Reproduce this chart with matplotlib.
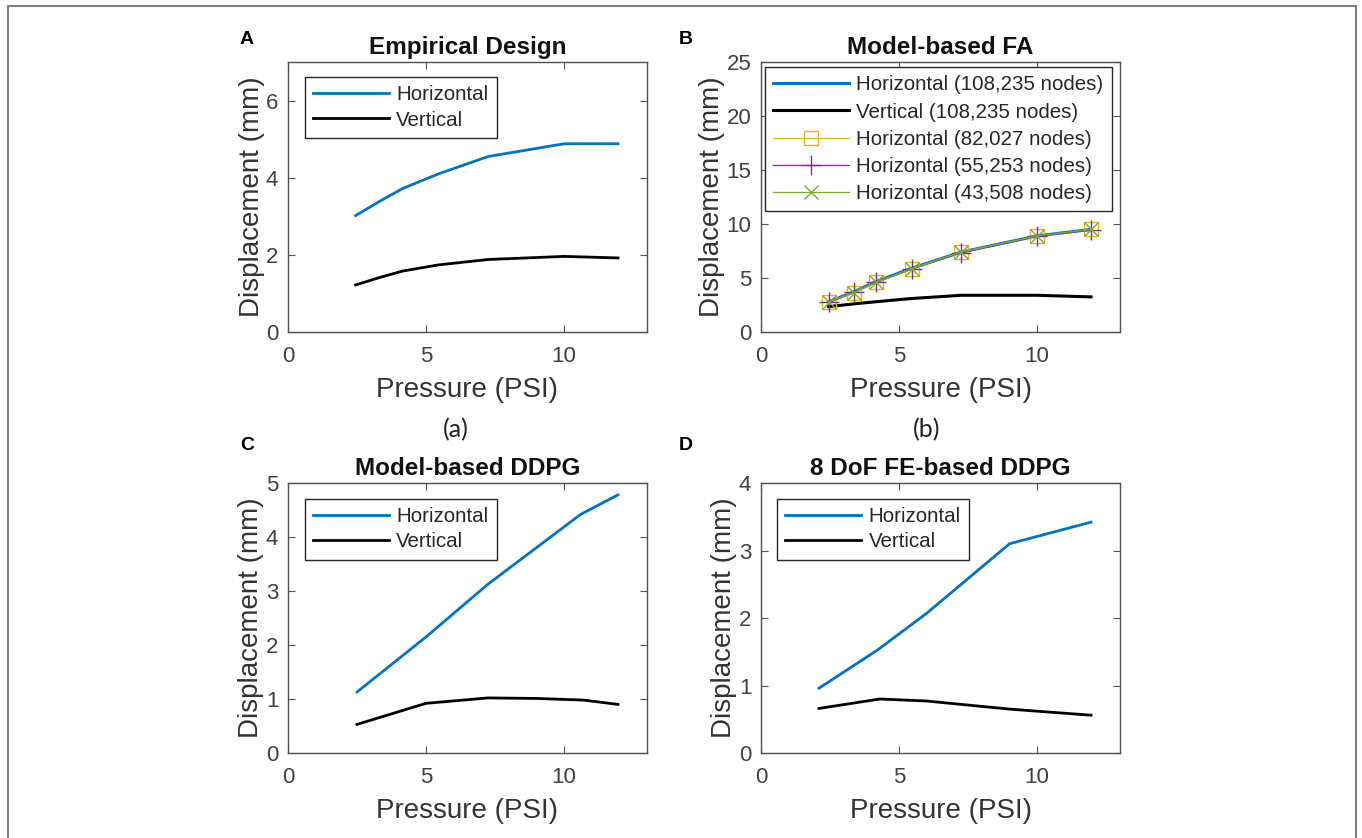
import matplotlib
matplotlib.use("Agg")
import matplotlib.pyplot as plt
from matplotlib.patches import Rectangle

plt.rcParams['font.family'] = ['Liberation Sans', 'DejaVu Sans']

## dados (pressao em PSI, deslocamento em mm)
# (A) Empirical Design
pa = [2.45, 3.35, 4.15, 5.45, 7.25, 10.0, 11.95]
a_hor = [3.02, 3.40, 3.72, 4.10, 4.55, 4.88, 4.88]
a_ver = [1.22, 1.42, 1.58, 1.74, 1.88, 1.96, 1.92]

# (B) Model-based FA
pb = [2.45, 3.35, 4.15, 5.45, 7.25, 10.0, 11.95]
b_hor_108k = [2.80, 3.70, 4.65, 5.90, 7.40, 8.90, 9.50]
b_ver_108k = [2.35, 2.60, 2.80, 3.10, 3.40, 3.40, 3.25]
b_hor_82k = [2.75, 3.65, 4.60, 5.85, 7.40, 8.85, 9.50]
b_hor_55k = [2.75, 3.70, 4.60, 5.85, 7.35, 8.85, 9.45]
b_hor_43k = [2.80, 3.65, 4.60, 5.85, 7.40, 8.90, 9.50]

# (C) Model-based DDPG
pc_hor = [2.5, 5.0, 7.25, 10.6, 11.95]
c_hor = [1.13, 2.15, 3.13, 4.42, 4.78]
pc_ver = [2.5, 5.0, 7.25, 9.0, 10.7, 11.95]
c_ver = [0.53, 0.92, 1.02, 1.01, 0.98, 0.90]

# (D) 8 DoF FE-based DDPG
pd_ = [2.1, 4.2, 6.0, 9.0, 11.95]
d_hor = [0.96, 1.52, 2.07, 3.10, 3.42]
pd_ver = [2.1, 4.3, 6.0, 9.0, 11.95]
d_ver = [0.66, 0.80, 0.77, 0.65, 0.56]

azul = '#0072BD'
laranja = '#EDB120'
roxo = '#7E2F8E'
verde = '#77AC30'
cinza = '#404040'

W, H = 1362, 838
fig = plt.figure(figsize=(W / 100, H / 100), dpi=100)

# moldura externa
fig.patches.append(Rectangle((8 / W, -0.02), (1356 - 8) / W, 1 - 6 / H + 0.02,
                             transform=fig.transFigure, fill=False,
                             edgecolor='#808080', lw=1.5))


def eixo(x0, y_top, ylim, yticks, titulo):
    # x0, y_top em pixels da imagem
    w, h = 359, 270
    ax = fig.add_axes([x0 / W, (H - y_top - h) / H, w / W, h / H])
    ax.set_xlim(0, 13)
    ax.set_ylim(*ylim)
    ax.set_xticks([0, 5, 10])
    ax.set_yticks(yticks)
    ax.tick_params(direction='in', top=True, right=True, length=5,
                   width=0.8, colors='#505050', labelsize=16,
                   labelcolor=cinza)
    ax.tick_params(axis='x', pad=10)
    ax.tick_params(axis='y', pad=7)
    for s in ax.spines.values():
        s.set_color('#505050')
        s.set_linewidth(1.0)
    ax.set_xlabel('Pressure (PSI)', fontsize=20, color='#333333', labelpad=7)
    ax.set_ylabel('Displacement (mm)', fontsize=20, color='#333333', labelpad=1)
    ax.set_title(titulo, fontsize=17.5, fontweight='bold', color='#111111', pad=6)
    return ax


def legenda(ax, bx, by, esp=0.3):
    leg = ax.legend(loc='upper left', bbox_to_anchor=(bx, by), borderaxespad=0,
                    fontsize=14.8, handlelength=3.7, handletextpad=0.35,
                    labelspacing=esp, borderpad=0.4, fancybox=False,
                    numpoints=1, framealpha=1)
    leg.get_frame().set_edgecolor('#262626')
    leg.get_frame().set_linewidth(1.0)
    for t in leg.get_texts():
        t.set_color('#262626')
    return leg


# A
axA = eixo(288, 62, (0, 7), [0, 2, 4, 6], 'Empirical Design')
axA.plot(pa, a_hor, color=azul, lw=2, label='Horizontal')
axA.plot(pa, a_ver, color='k', lw=2, label='Vertical')
legenda(axA, 0.047, 0.944)

# B
axB = eixo(761, 62, (0, 25), [0, 5, 10, 15, 20, 25], 'Model-based FA')
axB.plot(pb, b_hor_108k, color=azul, lw=2.2, label='Horizontal (108,235 nodes)')
axB.plot(pb, b_ver_108k, color='k', lw=2.2, label='Vertical (108,235 nodes)')
axB.plot(pb, b_hor_82k, color=laranja, lw=0.9, marker='s', ms=10, mfc='none',
         mec=laranja, label='Horizontal (82,027 nodes)')
axB.plot(pb, b_hor_55k, color=roxo, lw=0.9, marker='+', ms=14, mew=1,
         label='Horizontal (55,253 nodes)')
axB.plot(pb, b_hor_43k, color=verde, lw=0.9, marker='x', ms=10, mew=1,
         label='Horizontal (43,508 nodes)')
legenda(axB, 0.011, 0.981, esp=0.4)

# C
axC = eixo(288, 483, (0, 5), [0, 1, 2, 3, 4, 5], 'Model-based DDPG')
axC.plot(pc_hor, c_hor, color=azul, lw=2, label='Horizontal')
axC.plot(pc_ver, c_ver, color='k', lw=2, label='Vertical')
legenda(axC, 0.047, 0.941)

# D
axD = eixo(761, 483, (0, 4), [0, 1, 2, 3, 4], '8 DoF FE-based DDPG')
axD.plot(pd_, d_hor, color=azul, lw=2, label='Horizontal')
axD.plot(pd_ver, d_ver, color='k', lw=2, label='Vertical')
legenda(axD, 0.045, 0.941)

# letras dos paineis
for letra, x, y in [('A', 247, 40), ('B', 686, 40), ('C', 247, 445), ('D', 686, 445)]:
    fig.text(x / W, 1 - y / H, letra, fontsize=14, fontweight='bold',
             ha='center', va='center', color='k')

# legendas (a) e (b)
for txt, x in [('(a)', 456), ('(b)', 927)]:
    fig.text(x / W, 1 - 430 / H, txt, fontsize=18, family=['Lato', 'DejaVu Sans'],
             ha='center', va='center', color='#222222')

fig.savefig('out.png', dpi=100)
